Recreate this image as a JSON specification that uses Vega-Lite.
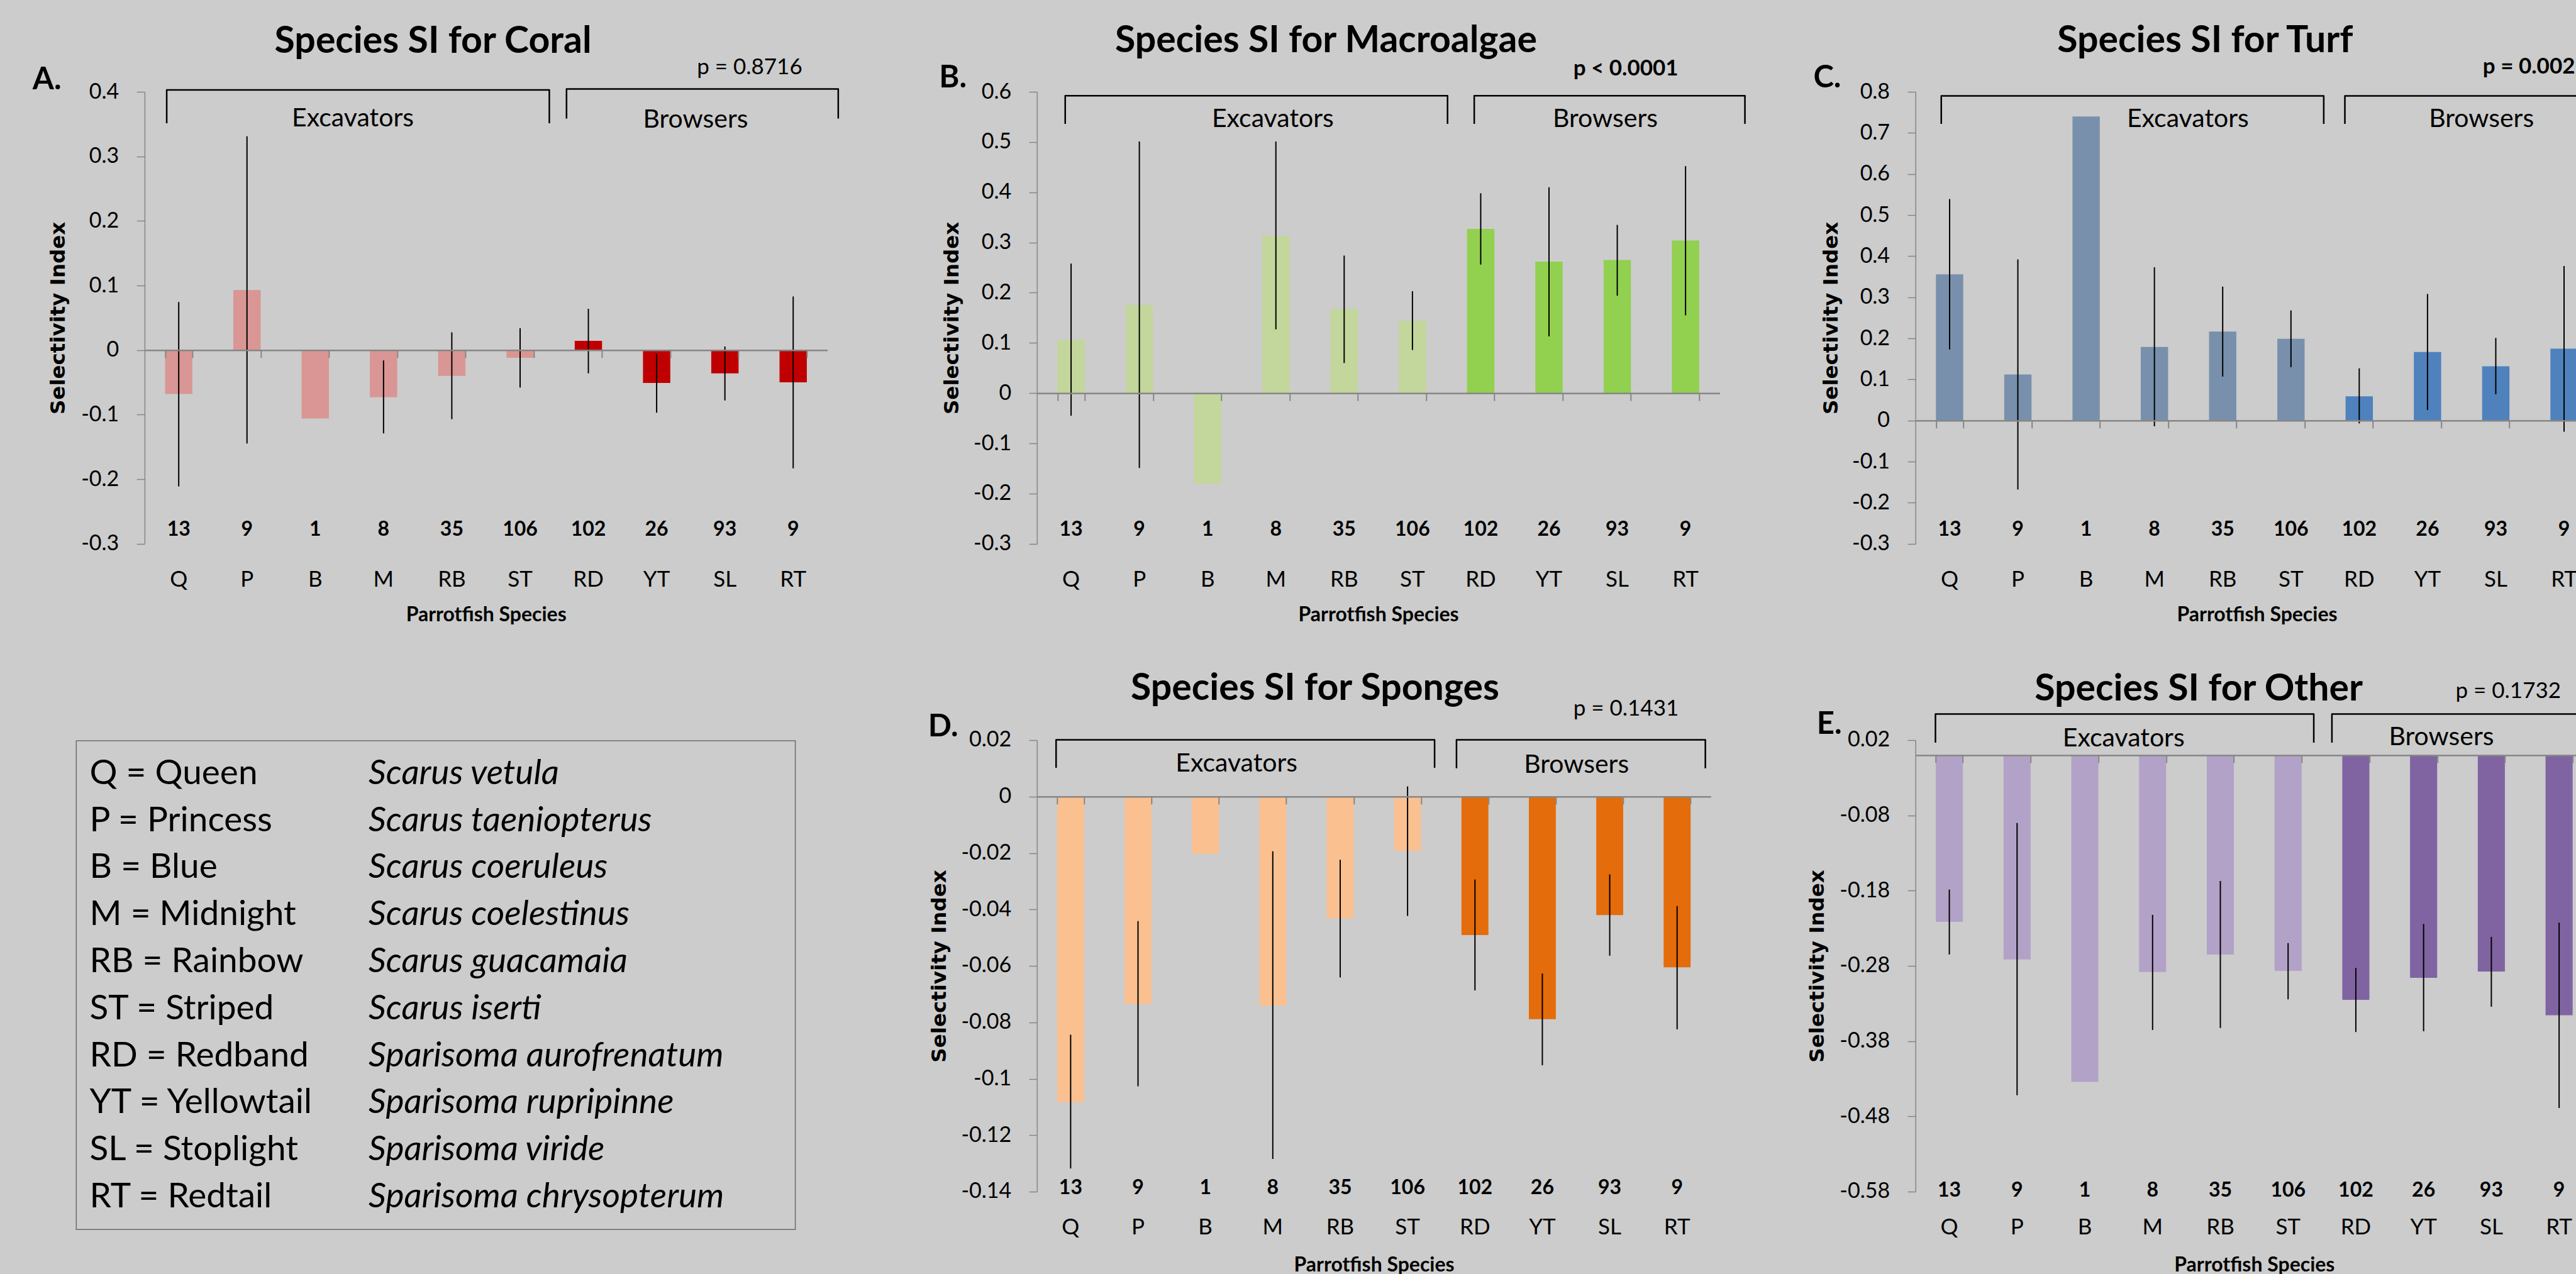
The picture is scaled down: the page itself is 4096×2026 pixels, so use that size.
{
"$schema": "https://vega.github.io/schema/vega-lite/v6.json",
"background": "#CCCCCC",
"padding": {"left": 50.9, "top": 35, "right": 0, "bottom": 0},
"columns": 3,
"align": "none",
"bounds": "flush",
"spacing": {"row": 312, "column": 310.9},
"resolve": {"scale": {"color": "independent"}},
"config": {
 "font": "Lato",
 "view": {"stroke": null},
 "axis": {"grid": false, "domainColor": "#868686", "tickColor": "#868686", "labelColor": "#000000", "titleColor": "#000000"},
 "axisY": {"labelFontSize": 34, "labelPadding": 28.4, "tickSize": 12.7, "tickWidth": 1.5, "domainWidth": 1.5, "labelBaseline": "middle", "titleFont": "DejaVu Sans", "titleFontWeight": "bold", "titleFontSize": 32.5, "titleAngle": 270, "titleAlign": "center", "titleBaseline": "middle", "labelExpr": "replace(format(datum.value, '.2~f'), '\u2212', '-')"},
 "text": {"color": "#000000"}
},
"datasets": {
 "coral": [
  {"sp":"Q","grp":"Excavators","n":13,"si":-0.068,"lo":-0.211,"hi":0.0745},
  {"sp":"P","grp":"Excavators","n":9,"si":0.093,"lo":-0.1446,"hi":0.331},
  {"sp":"B","grp":"Excavators","n":1,"si":-0.106},
  {"sp":"M","grp":"Excavators","n":8,"si":-0.073,"lo":-0.129,"hi":-0.016},
  {"sp":"RB","grp":"Excavators","n":35,"si":-0.040,"lo":-0.107,"hi":0.0275},
  {"sp":"ST","grp":"Excavators","n":106,"si":-0.012,"lo":-0.058,"hi":0.034},
  {"sp":"RD","grp":"Browsers","n":102,"si":0.0144,"lo":-0.036,"hi":0.064},
  {"sp":"YT","grp":"Browsers","n":26,"si":-0.051,"lo":-0.097,"hi":-0.006},
  {"sp":"SL","grp":"Browsers","n":93,"si":-0.036,"lo":-0.078,"hi":0.0056},
  {"sp":"RT","grp":"Browsers","n":9,"si":-0.050,"lo":-0.183,"hi":0.083}
 ],
 "macro": [
  {"sp":"Q","grp":"Excavators","n":13,"si":0.106,"lo":-0.045,"hi":0.258},
  {"sp":"P","grp":"Excavators","n":9,"si":0.176,"lo":-0.149,"hi":0.501},
  {"sp":"B","grp":"Excavators","n":1,"si":-0.180},
  {"sp":"M","grp":"Excavators","n":8,"si":0.313,"lo":0.127,"hi":0.501},
  {"sp":"RB","grp":"Excavators","n":35,"si":0.168,"lo":0.060,"hi":0.274},
  {"sp":"ST","grp":"Excavators","n":106,"si":0.144,"lo":0.086,"hi":0.203},
  {"sp":"RD","grp":"Browsers","n":102,"si":0.327,"lo":0.256,"hi":0.398},
  {"sp":"YT","grp":"Browsers","n":26,"si":0.262,"lo":0.113,"hi":0.410},
  {"sp":"SL","grp":"Browsers","n":93,"si":0.265,"lo":0.194,"hi":0.335},
  {"sp":"RT","grp":"Browsers","n":9,"si":0.304,"lo":0.155,"hi":0.452}
 ],
 "turf": [
  {"sp":"Q","grp":"Excavators","n":13,"si":0.356,"lo":0.173,"hi":0.539},
  {"sp":"P","grp":"Excavators","n":9,"si":0.112,"lo":-0.168,"hi":0.392},
  {"sp":"B","grp":"Excavators","n":1,"si":0.740},
  {"sp":"M","grp":"Excavators","n":8,"si":0.179,"lo":-0.014,"hi":0.373},
  {"sp":"RB","grp":"Excavators","n":35,"si":0.2165,"lo":0.107,"hi":0.326},
  {"sp":"ST","grp":"Excavators","n":106,"si":0.199,"lo":0.130,"hi":0.268},
  {"sp":"RD","grp":"Browsers","n":102,"si":0.059,"lo":-0.007,"hi":0.127},
  {"sp":"YT","grp":"Browsers","n":26,"si":0.167,"lo":0.0256,"hi":0.308},
  {"sp":"SL","grp":"Browsers","n":93,"si":0.132,"lo":0.064,"hi":0.201},
  {"sp":"RT","grp":"Browsers","n":9,"si":0.175,"lo":-0.027,"hi":0.376}
 ],
 "sponges": [
  {"sp":"Q","grp":"Excavators","n":13,"si":-0.1083,"lo":-0.1318,"hi":-0.0844},
  {"sp":"P","grp":"Excavators","n":9,"si":-0.0735,"lo":-0.1027,"hi":-0.0441},
  {"sp":"B","grp":"Excavators","n":1,"si":-0.0203},
  {"sp":"M","grp":"Excavators","n":8,"si":-0.0741,"lo":-0.1284,"hi":-0.0194},
  {"sp":"RB","grp":"Excavators","n":35,"si":-0.0431,"lo":-0.0641,"hi":-0.0224},
  {"sp":"ST","grp":"Excavators","n":106,"si":-0.0192,"lo":-0.0423,"hi":0.0036},
  {"sp":"RD","grp":"Browsers","n":102,"si":-0.0491,"lo":-0.0687,"hi":-0.0294},
  {"sp":"YT","grp":"Browsers","n":26,"si":-0.0789,"lo":-0.0952,"hi":-0.0627},
  {"sp":"SL","grp":"Browsers","n":93,"si":-0.0420,"lo":-0.0564,"hi":-0.0276},
  {"sp":"RT","grp":"Browsers","n":9,"si":-0.0605,"lo":-0.0825,"hi":-0.0388}
 ],
 "other": [
  {"sp":"Q","grp":"Excavators","n":13,"si":-0.2215,"lo":-0.2649,"hi":-0.1786},
  {"sp":"P","grp":"Excavators","n":9,"si":-0.2714,"lo":-0.452,"hi":-0.0901},
  {"sp":"B","grp":"Excavators","n":1,"si":-0.4341},
  {"sp":"M","grp":"Excavators","n":8,"si":-0.2882,"lo":-0.3652,"hi":-0.2122},
  {"sp":"RB","grp":"Excavators","n":35,"si":-0.2649,"lo":-0.3625,"hi":-0.1672},
  {"sp":"ST","grp":"Excavators","n":106,"si":-0.2866,"lo":-0.3245,"hi":-0.2497},
  {"sp":"RD","grp":"Browsers","n":102,"si":-0.3251,"lo":-0.3679,"hi":-0.2828},
  {"sp":"YT","grp":"Browsers","n":26,"si":-0.2958,"lo":-0.3669,"hi":-0.2242},
  {"sp":"SL","grp":"Browsers","n":93,"si":-0.2876,"lo":-0.3343,"hi":-0.2415},
  {"sp":"RT","grp":"Browsers","n":9,"si":-0.3457,"lo":-0.4689,"hi":-0.2226}
 ],
 "legend": [
  {"row":1,"abbr":"Q = Queen","sci":"Scarus vetula"},
  {"row":2,"abbr":"P = Princess","sci":"Scarus taeniopterus"},
  {"row":3,"abbr":"B = Blue","sci":"Scarus coeruleus"},
  {"row":4,"abbr":"M = Midnight","sci":"Scarus coelestinus"},
  {"row":5,"abbr":"RB = Rainbow","sci":"Scarus guacamaia"},
  {"row":6,"abbr":"ST = Striped","sci":"Scarus iserti"},
  {"row":7,"abbr":"RD = Redband","sci":"Sparisoma aurofrenatum"},
  {"row":8,"abbr":"YT = Yellowtail","sci":"Sparisoma rupripinne"},
  {"row":9,"abbr":"SL = Stoplight","sci":"Sparisoma viride"},
  {"row":10,"abbr":"RT = Redtail","sci":"Sparisoma chrysopterum"}
 ]
},
"concat": [
 {
  "width": 1085.6, "height": 718.8,
  "layer": [
   {"data": {"name": "coral"},
    "layer": [
     {"mark": {"type": "bar"},
      "encoding": {
       "x": {"field": "sp", "type": "nominal", "sort": ["Q","P","B","M","RB","ST","RD","YT","SL","RT"], "scale": {"type": "band", "paddingInner": 0.6, "paddingOuter": 0.3}, "axis": {"orient": "bottom", "domain": false, "ticks": false, "tickSize": 0, "labelAngle": 0, "labelFontSize": 35, "labelPadding": 67.5, "labelBaseline": "alphabetic", "title": "Parrotfish Species", "titleFontSize": 32, "titleFontWeight": "bold", "titleY": 123, "titleBaseline": "alphabetic"}},
       "y": {"field": "si", "type": "quantitative", "title": "Selectivity Index", "scale": {"domain": [-0.3, 0.4], "nice": false}, "axis": {"values": [-0.3,-0.2,-0.1,0,0.1,0.2,0.3,0.4], "titleX": -137, "titleY": 359.4}},
       "y2": {"datum": 0},
       "color": {"field": "grp", "type": "nominal", "scale": {"domain": ["Excavators","Browsers"], "range": ["#D99694","#C00000"]}, "legend": null}
      }},
     {"mark": {"type": "rule", "color": "#000000", "strokeWidth": 2},
      "encoding": {
       "x": {"field": "sp", "type": "nominal", "sort": ["Q","P","B","M","RB","ST","RD","YT","SL","RT"], "scale": {"type": "band", "paddingInner": 0.6, "paddingOuter": 0.3}, "axis": {"orient": "bottom", "offset": -308.06, "labels": false, "title": null, "tickBand": "extent", "tickSize": 12, "tickWidth": 2, "domainWidth": 2.5, "zindex": 1}},
       "y": {"field": "lo", "type": "quantitative", "title": "Selectivity Index", "scale": {"domain": [-0.3, 0.4], "nice": false}},
       "y2": {"field": "hi"}
      }},
     {"mark": {"type": "text", "fontWeight": "bold", "fontSize": 32, "baseline": "alphabetic", "dy": -12.7, "color": "#000000"},
      "encoding": {
       "x": {"field": "sp", "type": "nominal", "sort": ["Q","P","B","M","RB","ST","RD","YT","SL","RT"], "scale": {"type": "band", "paddingInner": 0.6, "paddingOuter": 0.3}, "axis": null},
       "y": {"datum": -0.3, "type": "quantitative", "title": "Selectivity Index", "scale": {"domain": [-0.3, 0.4], "nice": false}},
       "text": {"field": "n", "type": "nominal"}
      }}
    ],
    "resolve": {"axis": {"x": "independent"}}
   },
   {"data": {"values": [{}]},
    "layer": [
     {"data": {"values": [
       {"g":"E","o":1,"x":0.324,"y":0.3514},{"g":"E","o":2,"x":0.324,"y":0.4029},{"g":"E","o":3,"x":5.928,"y":0.4029},{"g":"E","o":4,"x":5.928,"y":0.3514},
       {"g":"B","o":1,"x":6.18,"y":0.3586},{"g":"B","o":2,"x":6.18,"y":0.4043},{"g":"B","o":3,"x":10.16,"y":0.4043},{"g":"B","o":4,"x":10.16,"y":0.3586}]},
      "mark": {"type": "line", "color": "#000000", "strokeWidth": 2.5, "strokeJoin": "round"},
      "encoding": {"x": {"field": "x", "type": "quantitative", "scale": {"domain": [0, 10], "nice": false, "zero": false}, "axis": null}, "y": {"field": "y", "type": "quantitative", "title": "Selectivity Index", "scale": {"domain": [-0.3, 0.4], "nice": false}}, "detail": {"field": "g"}, "order": {"field": "o"}}},
     {"mark": {"type": "text", "text": "Excavators", "fontSize": 41, "align": "center", "baseline": "alphabetic", "color": "#000000"},
      "encoding": {"x": {"datum": 3.05, "type": "quantitative", "scale": {"domain": [0, 10], "nice": false, "zero": false}, "axis": null}, "y": {"datum": 0.3467, "type": "quantitative", "title": "Selectivity Index", "scale": {"domain": [-0.3, 0.4], "nice": false}}}},
     {"mark": {"type": "text", "text": "Browsers", "fontSize": 41, "align": "center", "baseline": "alphabetic", "color": "#000000"},
      "encoding": {"x": {"datum": 8.07, "type": "quantitative", "scale": {"domain": [0, 10], "nice": false, "zero": false}, "axis": null}, "y": {"datum": 0.3448, "type": "quantitative", "title": "Selectivity Index", "scale": {"domain": [-0.3, 0.4], "nice": false}}}},
     {"mark": {"type": "text", "text": "A.", "fontSize": 49, "fontWeight": "bold", "align": "left", "baseline": "alphabetic", "color": "#000000"},
      "encoding": {"x": {"datum": -1.64, "type": "quantitative", "scale": {"domain": [0, 10], "nice": false, "zero": false}, "axis": null}, "y": {"datum": 0.4038, "type": "quantitative", "title": "Selectivity Index", "scale": {"domain": [-0.3, 0.4], "nice": false}}}},
     {"mark": {"type": "text", "text": "p = 0.8716", "fontSize": 35, "align": "left", "baseline": "alphabetic", "color": "#000000"},
      "encoding": {"x": {"datum": 8.09, "type": "quantitative", "scale": {"domain": [0, 10], "nice": false, "zero": false}, "axis": null}, "y": {"datum": 0.4274, "type": "quantitative", "title": "Selectivity Index", "scale": {"domain": [-0.3, 0.4], "nice": false}}}},
     {"mark": {"type": "text", "text": "Species SI for Coral", "fontSize": 59, "fontWeight": "bold", "align": "center", "baseline": "alphabetic", "color": "#000000"},
      "encoding": {"x": {"datum": 4.225, "type": "quantitative", "scale": {"domain": [0, 10], "nice": false, "zero": false}, "axis": null}, "y": {"datum": 0.4606, "type": "quantitative", "title": "Selectivity Index", "scale": {"domain": [-0.3, 0.4], "nice": false}}}}
    ]}
  ],
  "resolve": {"scale": {"x": "independent"}, "axis": {"x": "independent"}}
 },
 {
  "width": 1085.6, "height": 718.8,
  "layer": [
   {"data": {"name": "macro"},
    "layer": [
     {"mark": {"type": "bar"},
      "encoding": {
       "x": {"field": "sp", "type": "nominal", "sort": ["Q","P","B","M","RB","ST","RD","YT","SL","RT"], "scale": {"type": "band", "paddingInner": 0.6, "paddingOuter": 0.3}, "axis": {"orient": "bottom", "domain": false, "ticks": false, "tickSize": 0, "labelAngle": 0, "labelFontSize": 35, "labelPadding": 67.5, "labelBaseline": "alphabetic", "title": "Parrotfish Species", "titleFontSize": 32, "titleFontWeight": "bold", "titleY": 123, "titleBaseline": "alphabetic"}},
       "y": {"field": "si", "type": "quantitative", "title": "Selectivity Index", "scale": {"domain": [-0.3, 0.6], "nice": false}, "axis": {"values": [-0.3,-0.2,-0.1,0,0.1,0.2,0.3,0.4,0.5,0.6], "titleX": -135, "titleY": 359.4}},
       "y2": {"datum": 0},
       "color": {"field": "grp", "type": "nominal", "scale": {"domain": ["Excavators","Browsers"], "range": ["#C3D69B","#92D050"]}, "legend": null}
      }},
     {"mark": {"type": "rule", "color": "#000000", "strokeWidth": 2},
      "encoding": {
       "x": {"field": "sp", "type": "nominal", "sort": ["Q","P","B","M","RB","ST","RD","YT","SL","RT"], "scale": {"type": "band", "paddingInner": 0.6, "paddingOuter": 0.3}, "axis": {"orient": "bottom", "offset": -239.6, "labels": false, "title": null, "tickBand": "extent", "tickSize": 12, "tickWidth": 2, "domainWidth": 2.5, "zindex": 1}},
       "y": {"field": "lo", "type": "quantitative", "title": "Selectivity Index", "scale": {"domain": [-0.3, 0.6], "nice": false}},
       "y2": {"field": "hi"}
      }},
     {"mark": {"type": "text", "fontWeight": "bold", "fontSize": 32, "baseline": "alphabetic", "dy": -12.7, "color": "#000000"},
      "encoding": {
       "x": {"field": "sp", "type": "nominal", "sort": ["Q","P","B","M","RB","ST","RD","YT","SL","RT"], "scale": {"type": "band", "paddingInner": 0.6, "paddingOuter": 0.3}, "axis": null},
       "y": {"datum": -0.3, "type": "quantitative", "title": "Selectivity Index", "scale": {"domain": [-0.3, 0.6], "nice": false}},
       "text": {"field": "n", "type": "nominal"}
      }}
    ],
    "resolve": {"axis": {"x": "independent"}}
   },
   {"data": {"values": [{}]},
    "layer": [
     {"data": {"values": [
       {"g":"E","o":1,"x":0.414,"y":0.5362},{"g":"E","o":2,"x":0.414,"y":0.5921},{"g":"E","o":3,"x":6.014,"y":0.5921},{"g":"E","o":4,"x":6.014,"y":0.5362},
       {"g":"B","o":1,"x":6.405,"y":0.536},{"g":"B","o":2,"x":6.405,"y":0.5921},{"g":"B","o":3,"x":10.37,"y":0.5921},{"g":"B","o":4,"x":10.37,"y":0.536}]},
      "mark": {"type": "line", "color": "#000000", "strokeWidth": 2.5, "strokeJoin": "round"},
      "encoding": {"x": {"field": "x", "type": "quantitative", "scale": {"domain": [0, 10], "nice": false, "zero": false}, "axis": null}, "y": {"field": "y", "type": "quantitative", "title": "Selectivity Index", "scale": {"domain": [-0.3, 0.6], "nice": false}}, "detail": {"field": "g"}, "order": {"field": "o"}}},
     {"mark": {"type": "text", "text": "Excavators", "fontSize": 41, "align": "center", "baseline": "alphabetic", "color": "#000000"},
      "encoding": {"x": {"datum": 3.455, "type": "quantitative", "scale": {"domain": [0, 10], "nice": false, "zero": false}, "axis": null}, "y": {"datum": 0.530, "type": "quantitative", "title": "Selectivity Index", "scale": {"domain": [-0.3, 0.6], "nice": false}}}},
     {"mark": {"type": "text", "text": "Browsers", "fontSize": 41, "align": "center", "baseline": "alphabetic", "color": "#000000"},
      "encoding": {"x": {"datum": 8.324, "type": "quantitative", "scale": {"domain": [0, 10], "nice": false, "zero": false}, "axis": null}, "y": {"datum": 0.530, "type": "quantitative", "title": "Selectivity Index", "scale": {"domain": [-0.3, 0.6], "nice": false}}}},
     {"mark": {"type": "text", "text": "B.", "fontSize": 49, "fontWeight": "bold", "align": "left", "baseline": "alphabetic", "color": "#000000"},
      "encoding": {"x": {"datum": -1.432, "type": "quantitative", "scale": {"domain": [0, 10], "nice": false, "zero": false}, "axis": null}, "y": {"datum": 0.6086, "type": "quantitative", "title": "Selectivity Index", "scale": {"domain": [-0.3, 0.6], "nice": false}}}},
     {"mark": {"type": "text", "text": "p < 0.0001", "fontSize": 35, "fontWeight": "bold", "align": "left", "baseline": "alphabetic", "color": "#000000"},
      "encoding": {"x": {"datum": 7.856, "type": "quantitative", "scale": {"domain": [0, 10], "nice": false, "zero": false}, "axis": null}, "y": {"datum": 0.6331, "type": "quantitative", "title": "Selectivity Index", "scale": {"domain": [-0.3, 0.6], "nice": false}}}},
     {"mark": {"type": "text", "text": "Species SI for Macroalgae", "fontSize": 59, "fontWeight": "bold", "align": "center", "baseline": "alphabetic", "color": "#000000"},
      "encoding": {"x": {"datum": 4.234, "type": "quantitative", "scale": {"domain": [0, 10], "nice": false, "zero": false}, "axis": null}, "y": {"datum": 0.6793, "type": "quantitative", "title": "Selectivity Index", "scale": {"domain": [-0.3, 0.6], "nice": false}}}}
    ]}
  ],
  "resolve": {"scale": {"x": "independent"}, "axis": {"x": "independent"}}
 },
 {
  "width": 1085.6, "height": 718.8,
  "layer": [
   {"data": {"name": "turf"},
    "layer": [
     {"mark": {"type": "bar"},
      "encoding": {
       "x": {"field": "sp", "type": "nominal", "sort": ["Q","P","B","M","RB","ST","RD","YT","SL","RT"], "scale": {"type": "band", "paddingInner": 0.6, "paddingOuter": 0.3}, "axis": {"orient": "bottom", "domain": false, "ticks": false, "tickSize": 0, "labelAngle": 0, "labelFontSize": 35, "labelPadding": 67.5, "labelBaseline": "alphabetic", "title": "Parrotfish Species", "titleFontSize": 32, "titleFontWeight": "bold", "titleY": 123, "titleBaseline": "alphabetic"}},
       "y": {"field": "si", "type": "quantitative", "title": "Selectivity Index", "scale": {"domain": [-0.3, 0.8], "nice": false}, "axis": {"values": [-0.3,-0.2,-0.1,0,0.1,0.2,0.3,0.4,0.5,0.6,0.7,0.8], "titleX": -134, "titleY": 359.4}},
       "y2": {"datum": 0},
       "color": {"field": "grp", "type": "nominal", "scale": {"domain": ["Excavators","Browsers"], "range": ["#7890AC","#4F81BD"]}, "legend": null}
      }},
     {"mark": {"type": "rule", "color": "#000000", "strokeWidth": 2},
      "encoding": {
       "x": {"field": "sp", "type": "nominal", "sort": ["Q","P","B","M","RB","ST","RD","YT","SL","RT"], "scale": {"type": "band", "paddingInner": 0.6, "paddingOuter": 0.3}, "axis": {"orient": "bottom", "offset": -196.04, "labels": false, "title": null, "tickBand": "extent", "tickSize": 12, "tickWidth": 2, "domainWidth": 2.5, "zindex": 1}},
       "y": {"field": "lo", "type": "quantitative", "title": "Selectivity Index", "scale": {"domain": [-0.3, 0.8], "nice": false}},
       "y2": {"field": "hi"}
      }},
     {"mark": {"type": "text", "fontWeight": "bold", "fontSize": 32, "baseline": "alphabetic", "dy": -12.7, "color": "#000000"},
      "encoding": {
       "x": {"field": "sp", "type": "nominal", "sort": ["Q","P","B","M","RB","ST","RD","YT","SL","RT"], "scale": {"type": "band", "paddingInner": 0.6, "paddingOuter": 0.3}, "axis": null},
       "y": {"datum": -0.3, "type": "quantitative", "title": "Selectivity Index", "scale": {"domain": [-0.3, 0.8], "nice": false}},
       "text": {"field": "n", "type": "nominal"}
      }}
    ],
    "resolve": {"axis": {"x": "independent"}}
   },
   {"data": {"values": [{}]},
    "layer": [
     {"data": {"values": [
       {"g":"E","o":1,"x":0.378,"y":0.722},{"g":"E","o":2,"x":0.378,"y":0.790},{"g":"E","o":3,"x":5.98,"y":0.790},{"g":"E","o":4,"x":5.98,"y":0.722},
       {"g":"B","o":1,"x":6.29,"y":0.722},{"g":"B","o":2,"x":6.29,"y":0.790},{"g":"B","o":3,"x":10.4,"y":0.790},{"g":"B","o":4,"x":10.4,"y":0.722}]},
      "mark": {"type": "line", "color": "#000000", "strokeWidth": 2.5, "strokeJoin": "round"},
      "encoding": {"x": {"field": "x", "type": "quantitative", "scale": {"domain": [0, 10], "nice": false, "zero": false}, "axis": null}, "y": {"field": "y", "type": "quantitative", "title": "Selectivity Index", "scale": {"domain": [-0.3, 0.8], "nice": false}}, "detail": {"field": "g"}, "order": {"field": "o"}}},
     {"mark": {"type": "text", "text": "Excavators", "fontSize": 41, "align": "center", "baseline": "alphabetic", "color": "#000000"},
      "encoding": {"x": {"datum": 3.99, "type": "quantitative", "scale": {"domain": [0, 10], "nice": false, "zero": false}, "axis": null}, "y": {"datum": 0.7145, "type": "quantitative", "title": "Selectivity Index", "scale": {"domain": [-0.3, 0.8], "nice": false}}}},
     {"mark": {"type": "text", "text": "Browsers", "fontSize": 41, "align": "center", "baseline": "alphabetic", "color": "#000000"},
      "encoding": {"x": {"datum": 8.29, "type": "quantitative", "scale": {"domain": [0, 10], "nice": false, "zero": false}, "axis": null}, "y": {"datum": 0.7145, "type": "quantitative", "title": "Selectivity Index", "scale": {"domain": [-0.3, 0.8], "nice": false}}}},
     {"mark": {"type": "text", "text": "C.", "fontSize": 49, "fontWeight": "bold", "align": "left", "baseline": "alphabetic", "color": "#000000"},
      "encoding": {"x": {"datum": -1.495, "type": "quantitative", "scale": {"domain": [0, 10], "nice": false, "zero": false}, "axis": null}, "y": {"datum": 0.8105, "type": "quantitative", "title": "Selectivity Index", "scale": {"domain": [-0.3, 0.8], "nice": false}}}},
     {"mark": {"type": "text", "text": "p = 0.0025", "fontSize": 35, "fontWeight": "bold", "align": "left", "baseline": "alphabetic", "color": "#000000"},
      "encoding": {"x": {"datum": 8.31, "type": "quantitative", "scale": {"domain": [0, 10], "nice": false, "zero": false}, "axis": null}, "y": {"datum": 0.845, "type": "quantitative", "title": "Selectivity Index", "scale": {"domain": [-0.3, 0.8], "nice": false}}}},
     {"mark": {"type": "text", "text": "Species SI for Turf", "fontSize": 59, "fontWeight": "bold", "align": "center", "baseline": "alphabetic", "color": "#000000"},
      "encoding": {"x": {"datum": 4.243, "type": "quantitative", "scale": {"domain": [0, 10], "nice": false, "zero": false}, "axis": null}, "y": {"datum": 0.8969, "type": "quantitative", "title": "Selectivity Index", "scale": {"domain": [-0.3, 0.8], "nice": false}}}}
    ]}
  ],
  "resolve": {"scale": {"x": "independent"}, "axis": {"x": "independent"}}
 },
 {
  "width": 1107.1, "height": 718,
  "data": {"name": "legend"},
  "layer": [
   {"data": {"values": [{}]},
    "mark": {"type": "rect", "fill": "transparent", "stroke": "#6B6B6B", "strokeWidth": 1.5},
    "encoding": {"x": {"datum": -9.81, "type": "quantitative", "scale": {"domain": [0, 100], "nice": false, "zero": false}, "axis": null}, "x2": {"datum": 93.46}, "y": {"datum": 0.079, "type": "quantitative", "scale": {"domain": [0.0668, 9.666], "nice": false, "zero": false, "reverse": true}, "axis": null}, "y2": {"datum": 10.471}}},
   {"mark": {"type": "text", "fontSize": 55, "align": "left", "baseline": "alphabetic", "color": "#000000"},
    "encoding": {"x": {"datum": -7.894, "type": "quantitative", "scale": {"domain": [0, 100], "nice": false, "zero": false}, "axis": null}, "y": {"field": "row", "type": "quantitative", "scale": {"domain": [0.0668, 9.666], "nice": false, "zero": false, "reverse": true}, "axis": null}, "text": {"field": "abbr"}}},
   {"mark": {"type": "text", "fontSize": 55, "fontStyle": "italic", "align": "left", "baseline": "alphabetic", "color": "#000000"},
    "encoding": {"x": {"datum": 32.17, "type": "quantitative", "scale": {"domain": [0, 100], "nice": false, "zero": false}, "axis": null}, "y": {"field": "row", "type": "quantitative", "scale": {"domain": [0.0668, 9.666], "nice": false, "zero": false, "reverse": true}, "axis": null}, "text": {"field": "sci"}}}
  ]
 },
 {
  "width": 1071.5, "height": 718,
  "layer": [
   {"data": {"name": "sponges"},
    "layer": [
     {"mark": {"type": "bar"},
      "encoding": {
       "x": {"field": "sp", "type": "nominal", "sort": ["Q","P","B","M","RB","ST","RD","YT","SL","RT"], "scale": {"type": "band", "paddingInner": 0.6, "paddingOuter": 0.3}, "axis": {"orient": "bottom", "domain": false, "ticks": false, "tickSize": 0, "labelAngle": 0, "labelFontSize": 35, "labelPadding": 67.5, "labelBaseline": "alphabetic", "title": "Parrotfish Species", "titleFontSize": 32, "titleFontWeight": "bold", "titleY": 127, "titleBaseline": "alphabetic"}},
       "y": {"field": "si", "type": "quantitative", "title": "Selectivity Index", "scale": {"domain": [-0.14, 0.02], "nice": false}, "axis": {"values": [-0.14,-0.12,-0.1,-0.08,-0.06,-0.04,-0.02,0,0.02], "titleX": -155, "titleY": 359}},
       "y2": {"datum": 0},
       "color": {"field": "grp", "type": "nominal", "scale": {"domain": ["Excavators","Browsers"], "range": ["#FAC090","#E46C0A"]}, "legend": null}
      }},
     {"mark": {"type": "rule", "color": "#000000", "strokeWidth": 2},
      "encoding": {
       "x": {"field": "sp", "type": "nominal", "sort": ["Q","P","B","M","RB","ST","RD","YT","SL","RT"], "scale": {"type": "band", "paddingInner": 0.6, "paddingOuter": 0.3}, "axis": {"orient": "bottom", "offset": -628.25, "labels": false, "title": null, "tickBand": "extent", "tickSize": 12, "tickWidth": 2, "domainWidth": 2.5, "zindex": 1}},
       "y": {"field": "lo", "type": "quantitative", "title": "Selectivity Index", "scale": {"domain": [-0.14, 0.02], "nice": false}},
       "y2": {"field": "hi"}
      }},
     {"mark": {"type": "text", "fontWeight": "bold", "fontSize": 32, "baseline": "alphabetic", "dy": 3.9, "color": "#000000"},
      "encoding": {
       "x": {"field": "sp", "type": "nominal", "sort": ["Q","P","B","M","RB","ST","RD","YT","SL","RT"], "scale": {"type": "band", "paddingInner": 0.6, "paddingOuter": 0.3}, "axis": null},
       "y": {"datum": -0.14, "type": "quantitative", "title": "Selectivity Index", "scale": {"domain": [-0.14, 0.02], "nice": false}},
       "text": {"field": "n", "type": "nominal"}
      }}
    ],
    "resolve": {"axis": {"x": "independent"}}
   },
   {"data": {"values": [{}]},
    "layer": [
     {"data": {"values": [
       {"g":"E","o":1,"x":0.284,"y":0.0102},{"g":"E","o":2,"x":0.284,"y":0.0201},{"g":"E","o":3,"x":5.901,"y":0.0201},{"g":"E","o":4,"x":5.901,"y":0.0102},
       {"g":"B","o":1,"x":6.226,"y":0.0100},{"g":"B","o":2,"x":6.226,"y":0.0201},{"g":"B","o":3,"x":9.919,"y":0.0201},{"g":"B","o":4,"x":9.919,"y":0.0100}]},
      "mark": {"type": "line", "color": "#000000", "strokeWidth": 2.5, "strokeJoin": "round"},
      "encoding": {"x": {"field": "x", "type": "quantitative", "scale": {"domain": [0, 10], "nice": false, "zero": false}, "axis": null}, "y": {"field": "y", "type": "quantitative", "title": "Selectivity Index", "scale": {"domain": [-0.14, 0.02], "nice": false}}, "detail": {"field": "g"}, "order": {"field": "o"}}},
     {"mark": {"type": "text", "text": "Excavators", "fontSize": 41, "align": "center", "baseline": "alphabetic", "color": "#000000"},
      "encoding": {"x": {"datum": 2.962, "type": "quantitative", "scale": {"domain": [0, 10], "nice": false, "zero": false}, "axis": null}, "y": {"datum": 0.0088, "type": "quantitative", "title": "Selectivity Index", "scale": {"domain": [-0.14, 0.02], "nice": false}}}},
     {"mark": {"type": "text", "text": "Browsers", "fontSize": 41, "align": "center", "baseline": "alphabetic", "color": "#000000"},
      "encoding": {"x": {"datum": 8.006, "type": "quantitative", "scale": {"domain": [0, 10], "nice": false, "zero": false}, "axis": null}, "y": {"datum": 0.0085, "type": "quantitative", "title": "Selectivity Index", "scale": {"domain": [-0.14, 0.02], "nice": false}}}},
     {"mark": {"type": "text", "text": "D.", "fontSize": 49, "fontWeight": "bold", "align": "left", "baseline": "alphabetic", "color": "#000000"},
      "encoding": {"x": {"datum": -1.615, "type": "quantitative", "scale": {"domain": [0, 10], "nice": false, "zero": false}, "axis": null}, "y": {"datum": 0.02137, "type": "quantitative", "title": "Selectivity Index", "scale": {"domain": [-0.14, 0.02], "nice": false}}}},
     {"mark": {"type": "text", "text": "p = 0.1431", "fontSize": 35, "align": "left", "baseline": "alphabetic", "color": "#000000"},
      "encoding": {"x": {"datum": 7.96, "type": "quantitative", "scale": {"domain": [0, 10], "nice": false, "zero": false}, "axis": null}, "y": {"datum": 0.0286, "type": "quantitative", "title": "Selectivity Index", "scale": {"domain": [-0.14, 0.02], "nice": false}}}},
     {"mark": {"type": "text", "text": "Species SI for Sponges", "fontSize": 59, "fontWeight": "bold", "align": "center", "baseline": "alphabetic", "color": "#000000"},
      "encoding": {"x": {"datum": 4.126, "type": "quantitative", "scale": {"domain": [0, 10], "nice": false, "zero": false}, "axis": null}, "y": {"datum": 0.03417, "type": "quantitative", "title": "Selectivity Index", "scale": {"domain": [-0.14, 0.02], "nice": false}}}}
    ]}
  ],
  "resolve": {"scale": {"x": "independent"}, "axis": {"x": "independent"}}
 },
 {
  "width": 1077.3, "height": 718,
  "layer": [
   {"data": {"name": "other"},
    "layer": [
     {"mark": {"type": "bar"},
      "encoding": {
       "x": {"field": "sp", "type": "nominal", "sort": ["Q","P","B","M","RB","ST","RD","YT","SL","RT"], "scale": {"type": "band", "paddingInner": 0.6, "paddingOuter": 0.3}, "axis": {"orient": "bottom", "domain": false, "ticks": false, "tickSize": 0, "labelAngle": 0, "labelFontSize": 35, "labelPadding": 67.5, "labelBaseline": "alphabetic", "title": "Parrotfish Species", "titleFontSize": 32, "titleFontWeight": "bold", "titleY": 127, "titleBaseline": "alphabetic"}},
       "y": {"field": "si", "type": "quantitative", "title": "Selectivity Index", "scale": {"domain": [-0.58, 0.02], "nice": false}, "axis": {"values": [-0.58,-0.48,-0.38,-0.28,-0.18,-0.08,0.02], "titleX": -156, "titleY": 359}},
       "y2": {"datum": 0},
       "color": {"field": "grp", "type": "nominal", "scale": {"domain": ["Excavators","Browsers"], "range": ["#B3A2C7","#8064A2"]}, "legend": null}
      }},
     {"mark": {"type": "rule", "color": "#000000", "strokeWidth": 2},
      "encoding": {
       "x": {"field": "sp", "type": "nominal", "sort": ["Q","P","B","M","RB","ST","RD","YT","SL","RT"], "scale": {"type": "band", "paddingInner": 0.6, "paddingOuter": 0.3}, "axis": {"orient": "bottom", "offset": -694.07, "labels": false, "title": null, "tickBand": "extent", "tickSize": 12, "tickWidth": 2, "domainWidth": 2.5, "zindex": 1}},
       "y": {"field": "lo", "type": "quantitative", "title": "Selectivity Index", "scale": {"domain": [-0.58, 0.02], "nice": false}},
       "y2": {"field": "hi"}
      }},
     {"mark": {"type": "text", "fontWeight": "bold", "fontSize": 32, "baseline": "alphabetic", "dy": 7.8, "color": "#000000"},
      "encoding": {
       "x": {"field": "sp", "type": "nominal", "sort": ["Q","P","B","M","RB","ST","RD","YT","SL","RT"], "scale": {"type": "band", "paddingInner": 0.6, "paddingOuter": 0.3}, "axis": null},
       "y": {"datum": -0.58, "type": "quantitative", "title": "Selectivity Index", "scale": {"domain": [-0.58, 0.02], "nice": false}},
       "text": {"field": "n", "type": "nominal"}
      }}
    ],
    "resolve": {"axis": {"x": "independent"}}
   },
   {"data": {"values": [{}]},
    "layer": [
     {"data": {"values": [
       {"g":"E","o":1,"x":0.295,"y":0.0167},{"g":"E","o":2,"x":0.295,"y":0.0547},{"g":"E","o":3,"x":5.879,"y":0.0547},{"g":"E","o":4,"x":5.879,"y":0.0167},
       {"g":"B","o":1,"x":6.147,"y":0.0167},{"g":"B","o":2,"x":6.147,"y":0.0547},{"g":"B","o":3,"x":9.801,"y":0.0547},{"g":"B","o":4,"x":9.801,"y":0.0167}]},
      "mark": {"type": "line", "color": "#000000", "strokeWidth": 2.5, "strokeJoin": "round"},
      "encoding": {"x": {"field": "x", "type": "quantitative", "scale": {"domain": [0, 10], "nice": false, "zero": false}, "axis": null}, "y": {"field": "y", "type": "quantitative", "title": "Selectivity Index", "scale": {"domain": [-0.58, 0.02], "nice": false}}, "detail": {"field": "g"}, "order": {"field": "o"}}},
     {"mark": {"type": "text", "text": "Excavators", "fontSize": 41, "align": "center", "baseline": "alphabetic", "color": "#000000"},
      "encoding": {"x": {"datum": 3.073, "type": "quantitative", "scale": {"domain": [0, 10], "nice": false, "zero": false}, "axis": null}, "y": {"datum": 0.0113, "type": "quantitative", "title": "Selectivity Index", "scale": {"domain": [-0.58, 0.02], "nice": false}}}},
     {"mark": {"type": "text", "text": "Browsers", "fontSize": 41, "align": "center", "baseline": "alphabetic", "color": "#000000"},
      "encoding": {"x": {"datum": 7.763, "type": "quantitative", "scale": {"domain": [0, 10], "nice": false, "zero": false}, "axis": null}, "y": {"datum": 0.013, "type": "quantitative", "title": "Selectivity Index", "scale": {"domain": [-0.58, 0.02], "nice": false}}}},
     {"mark": {"type": "text", "text": "E.", "fontSize": 49, "fontWeight": "bold", "align": "left", "baseline": "alphabetic", "color": "#000000"},
      "encoding": {"x": {"datum": -1.456, "type": "quantitative", "scale": {"domain": [0, 10], "nice": false, "zero": false}, "axis": null}, "y": {"datum": 0.0282, "type": "quantitative", "title": "Selectivity Index", "scale": {"domain": [-0.58, 0.02], "nice": false}}}},
     {"mark": {"type": "text", "text": "p = 0.1732", "fontSize": 35, "align": "left", "baseline": "alphabetic", "color": "#000000"},
      "encoding": {"x": {"datum": 7.972, "type": "quantitative", "scale": {"domain": [0, 10], "nice": false, "zero": false}, "axis": null}, "y": {"datum": 0.0756, "type": "quantitative", "title": "Selectivity Index", "scale": {"domain": [-0.58, 0.02], "nice": false}}}},
     {"mark": {"type": "text", "text": "Species SI for Other", "fontSize": 59, "fontWeight": "bold", "align": "center", "baseline": "alphabetic", "color": "#000000"},
      "encoding": {"x": {"datum": 4.181, "type": "quantitative", "scale": {"domain": [0, 10], "nice": false, "zero": false}, "axis": null}, "y": {"datum": 0.07265, "type": "quantitative", "title": "Selectivity Index", "scale": {"domain": [-0.58, 0.02], "nice": false}}}}
    ]}
  ],
  "resolve": {"scale": {"x": "independent"}, "axis": {"x": "independent"}}
 }
]
}
